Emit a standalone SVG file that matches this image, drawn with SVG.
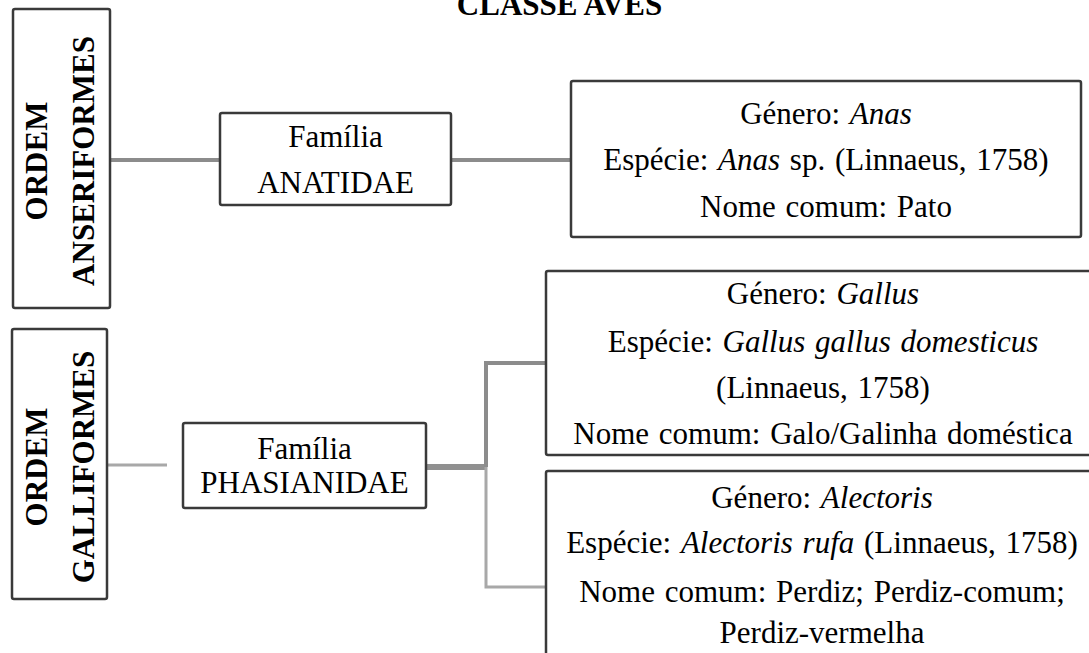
<svg xmlns="http://www.w3.org/2000/svg" width="1089" height="653" viewBox="0 0 1089 653">
<style>
.box{fill:#fff;stroke:#3a3a3a;stroke-width:2.5}
.t{font-family:'Liberation Serif','Times New Roman',Times,serif;font-size:31px;fill:#000;text-anchor:middle}
.b{font-weight:bold}
.ws{word-spacing:2px}
.i{font-style:italic}
.c1{stroke:#8c8c8c;stroke-width:4;fill:none}
.c2{stroke:#a8a8a8;stroke-width:3;fill:none}
</style>
<rect width="1089" height="653" fill="#fff"/>
<text class="t b" x="559.5" y="15" font-family="Liberation Serif">CLASSE AVES</text>
<g id="connectors">
<line class="c1" x1="110" y1="160" x2="220" y2="160"/>
<line class="c1" x1="451" y1="160" x2="571" y2="160"/>
<line class="c2" x1="107" y1="465" x2="167" y2="465"/>
<line x1="426" y1="467" x2="486" y2="467" stroke="#909090" stroke-width="6"/>
<polyline class="c1" points="546,363 486,363 486,467"/>
<polyline class="c2" points="486,467 486,587 546,587"/>
</g>
<g id="ordem-anseriformes">
<rect class="box" x="13" y="9" width="97" height="299" rx="2"/>
<text class="t b" transform="translate(47,161) rotate(-90)">ORDEM</text>
<text class="t b" transform="translate(94,161) rotate(-90)">ANSERIFORMES</text>
</g>
<g id="ordem-galliformes">
<rect class="box" x="12" y="329" width="95" height="270" rx="2"/>
<text class="t b" transform="translate(47,467) rotate(-90)">ORDEM</text>
<text class="t b" transform="translate(94,467) rotate(-90)">GALLIFORMES</text>
</g>
<g id="familia-anatidae">
<rect class="box" x="220" y="113" width="231" height="92" rx="2"/>
<text class="t" x="335.5" y="147">Família</text>
<text class="t" x="335.5" y="193">ANATIDAE</text>
</g>
<g id="familia-phasianidae">
<rect class="box" x="183" y="423" width="243" height="85" rx="2"/>
<text class="t" x="304.5" y="459">Família</text>
<text class="t" x="304.5" y="493">PHASIANIDAE</text>
</g>
<g id="genero-anas">
<rect class="box" x="571" y="81" width="510" height="156" rx="2"/>
<text class="t ws" x="826" y="124">Género: <tspan class="i">Anas</tspan></text>
<text class="t ws" x="826" y="170">Espécie: <tspan class="i">Anas</tspan> sp. (Linnaeus, 1758)</text>
<text class="t ws" x="826" y="217">Nome comum: Pato</text>
</g>
<g id="genero-gallus">
<rect class="box" x="546" y="271" width="560" height="184" rx="2"/>
<text class="t ws" x="823" y="304">Género: <tspan class="i">Gallus</tspan></text>
<text class="t ws" x="823" y="352">Espécie: <tspan class="i">Gallus gallus domesticus</tspan></text>
<text class="t ws" x="823" y="398">(Linnaeus, 1758)</text>
<text class="t ws" x="823" y="444">Nome comum: Galo/Galinha doméstica</text>
</g>
<g id="genero-alectoris">
<rect class="box" x="546" y="471" width="560" height="200" rx="2"/>
<text class="t ws" x="822" y="508">Género: <tspan class="i">Alectoris</tspan></text>
<text class="t ws" x="822" y="553">Espécie: <tspan class="i">Alectoris rufa</tspan> (Linnaeus, 1758)</text>
<text class="t ws" x="822" y="602">Nome comum: Perdiz; Perdiz-comum;</text>
<text class="t ws" x="822" y="643">Perdiz-vermelha</text>
</g>
</svg>
